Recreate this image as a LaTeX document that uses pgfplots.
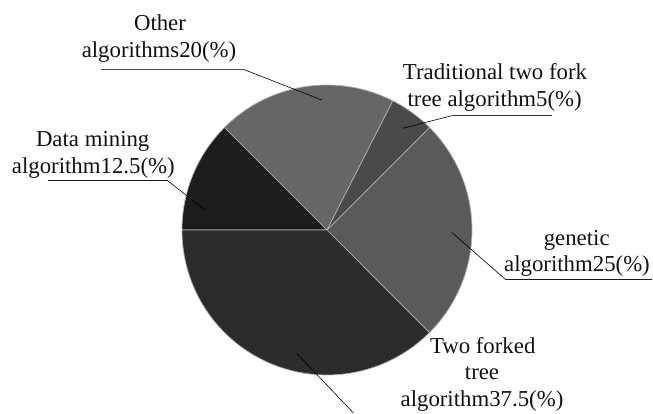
\documentclass[border=0pt]{standalone}
\usepackage{fontspec}
\setmainfont{Liberation Serif}
\usepackage{pgfplots}
\pgfplotsset{compat=1.18}
\begin{document}
\begin{tikzpicture}
% pie values (percent)
\def\vData{12.5}\def\vOther{20}\def\vTrad{5}\def\vGen{25}\def\vTwo{37.5}
\pgfmathsetmacro{\aA}{180}
\pgfmathsetmacro{\aB}{\aA-3.6*\vData}
\pgfmathsetmacro{\aC}{\aB-3.6*\vOther}
\pgfmathsetmacro{\aD}{\aC-3.6*\vTrad}
\pgfmathsetmacro{\aE}{\aD-3.6*\vGen}
\pgfmathsetmacro{\aF}{\aE-3.6*\vTwo}
\def\cx{327}\def\cy{183}\def\R{145}
\begin{axis}[
  width=653pt, height=413pt, scale only axis,
  xmin=0, xmax=653, ymin=0, ymax=413,
  hide axis, clip=false,
  every axis plot/.append style={samples=80, variable=\t},
]
\path (0,0) rectangle (653,413);
\addplot[fill={rgb,255:red,28;green,28;blue,28}, draw={rgb,255:red,175;green,175;blue,175}, line width=0.7pt, domain=\aB:\aA]
  ({\cx+\R*cos(t)},{\cy+\R*sin(t)}) -- (\cx,\cy) -- cycle;
\addplot[fill={rgb,255:red,102;green,102;blue,102}, draw={rgb,255:red,175;green,175;blue,175}, line width=0.7pt, domain=\aC:\aB]
  ({\cx+\R*cos(t)},{\cy+\R*sin(t)}) -- (\cx,\cy) -- cycle;
\addplot[fill={rgb,255:red,74;green,74;blue,74}, draw={rgb,255:red,175;green,175;blue,175}, line width=0.7pt, domain=\aD:\aC]
  ({\cx+\R*cos(t)},{\cy+\R*sin(t)}) -- (\cx,\cy) -- cycle;
\addplot[fill={rgb,255:red,90;green,90;blue,90}, draw={rgb,255:red,175;green,175;blue,175}, line width=0.7pt, domain=\aE:\aD]
  ({\cx+\R*cos(t)},{\cy+\R*sin(t)}) -- (\cx,\cy) -- cycle;
\addplot[fill={rgb,255:red,44;green,44;blue,44}, draw={rgb,255:red,175;green,175;blue,175}, line width=0.7pt, domain=\aF:\aE]
  ({\cx+\R*cos(t)},{\cy+\R*sin(t)}) -- (\cx,\cy) -- cycle;

% underlines
\addplot[black!70, line width=0.8pt] coordinates {(100.7,343.7) (243.3,343.7)};
\addplot[black!80, line width=0.8pt] coordinates {(451.7,297.3) (551.7,297.3)};
\addplot[black!90, line width=0.8pt] coordinates {(47.7,233) (166.7,233)};
\addplot[black!90, line width=0.8pt] coordinates {(505,134) (652,134)};
% leader lines
\addplot[black, line width=0.6pt] coordinates {(243.3,343.7) (321.7,313)};
\addplot[black, line width=0.6pt] coordinates {(451.7,297.3) (402.7,284.7)};
\addplot[black, line width=0.6pt] coordinates {(166.7,233) (205,203)};
\addplot[black, line width=0.6pt] coordinates {(505,134) (451.7,180.7)};
\addplot[black, line width=0.6pt] coordinates {(296.7,59.7) (353.5,0)};

\tikzset{lab/.style={anchor=base, inner sep=0pt, font=\fontsize{22.8}{26.7}\selectfont, text={rgb,255:red,17;green,17;blue,17}}}
\node[lab] at (160,382) {Other};
\node[lab] at (159,355) {algorithms20(\%)};
\node[lab] at (495,333) {Traditional two fork};
\node[lab] at (494.7,306.3) {tree algorithm5(\%)};
\node[lab] at (92.7,266.3) {Data mining};
\node[lab] at (93.3,239.7) {algorithm12.5(\%)};
\node[lab] at (576.7,168) {genetic};
\node[lab] at (577,141.3) {algorithm25(\%)};
\node[lab] at (482.7,59.7) {Two forked};
\node[lab] at (482,33.7) {tree};
\node[lab] at (482,7) {algorithm37.5(\%)};
\end{axis}
\end{tikzpicture}
\end{document}
